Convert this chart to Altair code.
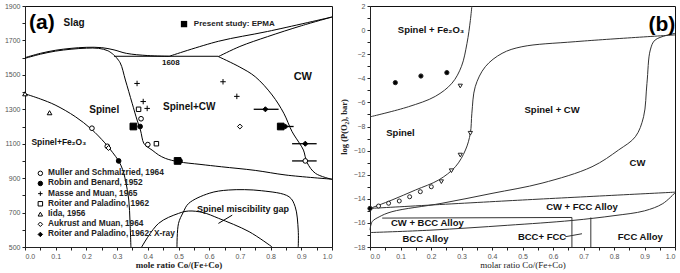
import altair as alt
import pandas as pd

# ================= Panel (a): temperature vs mole ratio =================
a_liq_x = [0, 0.05, 0.1, 0.15, 0.2, 0.25, 0.29, 0.33, 0.4, 0.47]
a_liq_y = [1600, 1625, 1643, 1654, 1660, 1658, 1645, 1625, 1612, 1608]
a_sol_x = [0, 0.05, 0.1, 0.15, 0.2, 0.24, 0.27, 0.29]
a_sol_y = [1596, 1620, 1638, 1649, 1655, 1654, 1640, 1615]
a_1608_x = [0.29, 0.63]
a_1608_y = [1608, 1608]
a_slagA_x = [0.47, 0.63, 0.79, 1.0]
a_slagA_y = [1608, 1695, 1752, 1836]
a_slagB_x = [0.63, 0.7, 0.79, 0.9, 1.0]
a_slagB_y = [1606, 1665, 1722, 1785, 1836]
a_cw_x = [0.63, 0.70, 0.75, 0.805, 0.843, 0.87, 0.895, 0.907, 0.919, 0.946, 1.0]
a_cw_y = [1606, 1545, 1489, 1383, 1277, 1170, 1100, 1063, 990, 928, 893]
a_spcw_x = [0.29, 0.31, 0.327, 0.349, 0.365, 0.376, 0.387, 0.40, 0.414, 0.435,
            0.457, 0.50, 0.57, 0.64, 0.75, 0.85, 1.0]
a_spcw_y = [1615, 1570, 1470, 1335, 1238, 1180, 1102, 1080, 1063, 1035,
            1015, 995, 980, 966, 945, 918, 894]
a_spfe_x = [0, 0.05, 0.098, 0.164, 0.216, 0.26, 0.285, 0.305, 0.318, 0.327, 0.338, 0.342, 0.345]
a_spfe_y = [1390, 1360, 1325, 1257, 1185, 1105, 1050, 1000, 950, 889, 773, 650, 500]
a_dome1_x = [0.38, 0.435, 0.50, 0.533, 0.58, 0.63, 0.73, 0.805]
a_dome1_y = [500, 637, 695, 709, 700, 667, 589, 500]
a_dome2_x = [0.495, 0.50, 0.515, 0.533, 0.60, 0.663, 0.77, 0.86, 0.88, 0.89, 0.89]
a_dome2_y = [500, 637, 700, 753, 812, 831, 827, 792, 734, 598, 500]
a_arrow_x = [0.675, 0.63]
a_arrow_y = [685, 637]

# experimental points (x, T)
muller_x = [0.218, 0.268, 0.378, 0.40, 0.913]
muller_y = [1190, 1085, 1245, 1095, 1000]
robin_x = [0.305, 0.375, 0.505]
robin_y = [1000, 1200, 1000]
masse_x = [0.365, 0.385, 0.398, 0.645, 0.69]
masse_y = [1450, 1345, 1305, 1460, 1375]
roiter_x = [0.37, 0.428]
roiter_y = [1300, 1100]
iida_x = [0.0, 0.08]
iida_y = [1390, 1280]
aukrust_x = [0.272, 0.70]
aukrust_y = [1075, 1200]
xray_x = [0.783, 0.913, 0.848]
xray_y = [1300, 1100, 1200]
epma_x = [0.353, 0.833, 0.497]
epma_y = [1200, 1200, 1000]
err_lo = [0.745, 0.87, 0.87, 0.848]
err_hi = [0.826, 0.95, 0.95, 0.875]
err_y = [1300, 1100, 1000, 1200]

PLUS = "M-1,0H1M0,-1V1"
legend_names = ["Muller and Schmalzried, 1964", "Robin and Benard, 1952",
                "Masse and Muan, 1965", "Roiter and Paladino, 1962", "Iida, 1956",
                "Aukrust and Muan, 1964", "Roiter and Paladino, 1962: X-ray"]
legend_y = [928, 869, 810, 751, 691, 632, 573]
legend_shape = ["circle", "circle", PLUS, "square", "triangle-up", "diamond", "diamond"]
legend_fill = ["white", "black", "white", "white", "white", "white", "black"]

a_labels = ["Slag", "CW", "Spinel", "Spinel+CW", "Spinel+Fe₂O₃", "1608", "Spinel miscibility gap"]
a_lab_x = [0.16, 0.905, 0.258, 0.535, 0.11, 0.475, 0.71]
a_lab_y = [1800, 1487, 1296, 1313, 1112, 1568, 718]
a_lab_size = [10, 11, 10, 10, 8.5, 8, 9]

# axis ticks (major labelled, minor unlabelled)
x_ticks = [round(0.05 * k, 2) for k in range(21)]
a_y_ticks = list(range(500, 1901, 100))
b_y_ticks = list(range(-18, 3, 1))

# ================= Panel (b): log pO2 vs molar ratio =================
b_fe_x = [0, 0.126, 0.214, 0.269, 0.30, 0.318, 0.329, 0.334]
b_fe_y = [-7.2, -6.36, -5.5, -4.4, -3.0, -1.1, 0.8, 2.0]
b_sp_x = [1.0, 0.673, 0.498, 0.433, 0.378, 0.345, 0.334, 0.329, 0.313, 0.28,
          0.225, 0.149, 0.072, 0.0]
b_sp_y = [-0.4, -0.96, -1.38, -1.93, -3.04, -4.7, -6.9, -8.56, -9.95, -11.34,
          -12.44, -13.27, -14.1, -14.8]
b_cw_x = [1.0, 0.935, 0.919, 0.908, 0.897, 0.87, 0.815, 0.728, 0.564, 0.40,
          0.236, 0.072, 0.03, 0.007, 0.0]
b_cw_y = [-0.27, -0.82, -1.65, -4.42, -7.19, -8.85, -9.95, -11.34, -12.7, -13.55,
          -14.37, -15.07, -15.5, -15.9, -16.6]
b_c_x = [0.0, 0.5, 1.0]
b_c_y = [-14.8, -14.1, -13.45]
b_h2_x = [0.04, 0.662]
b_h2_y = [-15.6, -15.55]
b_r_x = [0.0, 0.2, 0.45, 0.662, 0.8, 0.9, 0.96, 1.0]
b_r_y = [-16.8, -16.6, -16.2, -15.8, -15.4, -15.0, -14.4, -13.5]
b_v1_x = [0.662, 0.662]
b_v1_y = [-15.55, -18]
b_v2_x = [0.724, 0.724]
b_v2_y = [-15.55, -18]
b_ptr_x = [0.64, 0.695]
b_ptr_y = [-17.15, -16.9]

b_fill_x = [0.083, 0.167, 0.252, 0.0]
b_fill_y = [-4.36, -3.81, -3.53, -14.8]
b_tri_x = [0.296, 0.329, 0.296, 0.267, 0.234]
b_tri_y = [-4.64, -8.56, -10.37, -11.67, -12.58]
b_circ_x = [0.201, 0.165, 0.13, 0.096, 0.061, 0.028]
b_circ_y = [-13.0, -13.41, -13.83, -14.18, -14.37, -14.6]

b_labels = ["Spinel + Fe₂O₃", "Spinel + CW", "Spinel", "CW", "CW + FCC Alloy",
            "CW + BCC Alloy", "BCC Alloy", "BCC+ FCC", "FCC Alloy"]
b_lab_x = [0.2, 0.597, 0.1, 0.877, 0.695, 0.188, 0.182, 0.564, 0.886]
b_lab_y = [0.0, -6.63, -8.57, -11.05, -14.65, -15.98, -17.36, -17.15, -17.15]


def curves_df(curves):
    rows = []
    for name, (xs, ys) in curves.items():
        for i, (x, y) in enumerate(zip(xs, ys)):
            rows.append({"curve": name, "i": i, "x": x, "y": y})
    return pd.DataFrame(rows)


def pts_df(groups):
    rows = []
    for (xs, ys, shape, fill, size) in groups:
        for x, y in zip(xs, ys):
            rows.append({"x": x, "y": y, "shape": shape, "fill": fill, "size": size})
    return pd.DataFrame(rows)


LBL = "Liberation Sans"
XLAB = "round(datum.value*100) % 10 == 0 ? format(datum.value, '.1f') : ''"

# ---------------- build panel (a) ----------------
ax = alt.X("x:Q", scale=alt.Scale(domain=[0, 1], nice=False, zero=False),
           axis=alt.Axis(values=x_ticks, tickCount=100, labelExpr=XLAB, labelOverlap=False,
                         title="mole ratio Co/(Fe+Co)", titlePadding=1))
ay = alt.Y("y:Q", scale=alt.Scale(domain=[500, 1900], nice=False, zero=False),
           axis=alt.Axis(values=a_y_ticks, tickCount=100, labelOverlap=False,
                         labelExpr="datum.value % 200 == 100 ? format(datum.value, 'd') : ''",
                         title=None, minExtent=20, maxExtent=20))

a_curves = curves_df({
    "liq": (a_liq_x, a_liq_y), "sol": (a_sol_x, a_sol_y), "h1608": (a_1608_x, a_1608_y),
    "slagA": (a_slagA_x, a_slagA_y), "slagB": (a_slagB_x, a_slagB_y),
    "cw": (a_cw_x, a_cw_y), "spcw": (a_spcw_x, a_spcw_y), "spfe": (a_spfe_x, a_spfe_y),
    "dome1": (a_dome1_x, a_dome1_y), "dome2": (a_dome2_x, a_dome2_y),
    "arrow": (a_arrow_x, a_arrow_y),
})
a_lines = alt.Chart(a_curves).mark_line(interpolate="catmull-rom", color="black",
                                         strokeWidth=1).encode(
    x=ax, y=ay, detail="curve:N", order="i:Q")

a_err = alt.Chart(pd.DataFrame({"lo": err_lo, "hi": err_hi, "y": err_y})).mark_rule(
    color="black", strokeWidth=1.3).encode(x=alt.X("lo:Q"), x2="hi:Q", y=alt.Y("y:Q"))

a_pts_df = pts_df([
    (muller_x, muller_y, "circle", "white", 22),
    (robin_x, robin_y, "circle", "black", 22),
    (masse_x, masse_y, PLUS, "white", 30),
    (roiter_x, roiter_y, "square", "white", 20),
    (iida_x, iida_y, "triangle-up", "white", 22),
    (aukrust_x, aukrust_y, "diamond", "white", 24),
    (xray_x, xray_y, "diamond", "black", 26),
    (epma_x, epma_y, "square", "black", 45),
])
a_pts = alt.Chart(a_pts_df).mark_point(stroke="black", strokeWidth=1, opacity=1).encode(
    x="x:Q", y="y:Q", shape=alt.Shape("shape:N", scale=None),
    fill=alt.Fill("fill:N", scale=None), size=alt.Size("size:Q", scale=None))

leg_df = pd.DataFrame({"x": [0.05] * 7, "tx": [0.075] * 7, "y": legend_y,
                       "name": legend_names, "shape": legend_shape, "fill": legend_fill})
leg_pts = alt.Chart(leg_df).mark_point(stroke="black", strokeWidth=1, size=20, opacity=1).encode(
    x="x:Q", y="y:Q", shape=alt.Shape("shape:N", scale=None), fill=alt.Fill("fill:N", scale=None))
leg_txt = alt.Chart(leg_df).mark_text(align="left", baseline="middle", font=LBL,
                                      fontWeight="bold", fontSize=8.3, color="#222").encode(
    x="tx:Q", y="y:Q", text="name:N")

epma_df = pd.DataFrame({"x": [0.518], "tx": [0.55], "y": [1795], "t": ["Present study: EPMA"]})
epma_pt = alt.Chart(epma_df).mark_point(shape="square", filled=True, color="black", size=40,
                                        opacity=1).encode(x="x:Q", y="y:Q")
epma_txt = alt.Chart(epma_df).mark_text(align="left", baseline="middle", font=LBL,
                                        fontWeight="bold", fontSize=8, color="#222").encode(
    x="tx:Q", y="y:Q", text="t:N")

a_lab = alt.Chart(pd.DataFrame({"x": a_lab_x, "y": a_lab_y, "t": a_labels, "s": a_lab_size})).mark_text(
    align="center", baseline="middle", font=LBL, fontWeight="bold", color="#111").encode(
    x="x:Q", y="y:Q", text="t:N", size=alt.Size("s:Q", scale=None))

a_tag = alt.Chart(pd.DataFrame({"x": [0.055], "y": [1800], "t": ["(a)"]})).mark_text(
    align="center", baseline="middle", font=LBL, fontWeight="bold", fontSize=21, color="black").encode(
    x="x:Q", y="y:Q", text="t:N")

panel_a = alt.layer(a_lines, a_err, a_pts, leg_pts, leg_txt, epma_pt, epma_txt, a_lab, a_tag).properties(
    width=307, height=241)

# ---------------- build panel (b) ----------------
bx = alt.X("x:Q", scale=alt.Scale(domain=[0, 1], nice=False, zero=False),
           axis=alt.Axis(values=x_ticks, tickCount=100, labelExpr=XLAB, labelOverlap=False,
                         title="molar ratio Co/(Fe+Co)", titlePadding=1, titleFontWeight="normal"))
by = alt.Y("y:Q", scale=alt.Scale(domain=[-18, 2], nice=False, zero=False),
           axis=alt.Axis(values=b_y_ticks, tickCount=100, labelOverlap=False,
                         labelExpr="datum.value % 2 == 0 ? format(datum.value, 'd') : ''",
                         title="log (P(O₂), bar)", titlePadding=4, titleFontSize=8.5,
                         minExtent=18, maxExtent=18))

b_curves = curves_df({
    "fe": (b_fe_x, b_fe_y), "sp": (b_sp_x, b_sp_y), "cw": (b_cw_x, b_cw_y),
    "c": (b_c_x, b_c_y), "h2": (b_h2_x, b_h2_y), "r": (b_r_x, b_r_y),
    "v1": (b_v1_x, b_v1_y), "v2": (b_v2_x, b_v2_y),
    "ptr": (b_ptr_x, b_ptr_y),
})
b_lines = alt.Chart(b_curves).mark_line(interpolate="catmull-rom", color="#333",
                                         strokeWidth=1).encode(
    x=bx, y=by, detail="curve:N", order="i:Q")

b_pts_df = pts_df([
    (b_fill_x, b_fill_y, "circle", "black", 18),
    (b_tri_x, b_tri_y, "triangle-down", "white", 18),
    (b_circ_x, b_circ_y, "circle", "white", 16),
])
b_pts = alt.Chart(b_pts_df).mark_point(stroke="#222", strokeWidth=1, opacity=1).encode(
    x="x:Q", y="y:Q", shape=alt.Shape("shape:N", scale=None),
    fill=alt.Fill("fill:N", scale=None), size=alt.Size("size:Q", scale=None))

b_lab = alt.Chart(pd.DataFrame({"x": b_lab_x, "y": b_lab_y, "t": b_labels})).mark_text(
    align="center", baseline="middle", font=LBL, fontWeight="bold", fontSize=9.5, color="#111").encode(
    x="x:Q", y="y:Q", text="t:N")

b_tag = alt.Chart(pd.DataFrame({"x": [0.957], "y": [0.42], "t": ["(b)"]})).mark_text(
    align="center", baseline="middle", font=LBL, fontWeight="bold", fontSize=21, color="black").encode(
    x="x:Q", y="y:Q", text="t:N")

panel_b = alt.layer(b_lines, b_pts, b_lab, b_tag).properties(width=305, height=241)

chart = alt.hconcat(panel_a, panel_b, spacing=38, bounds="flush").properties(
    padding={"left": 3, "top": 1, "right": 0, "bottom": 0},
    background="white",
).configure_view(stroke="#111", strokeWidth=1).configure_axis(
    labelFont=LBL, labelFontSize=7, labelColor="#555", tickColor="#222", domainColor="#222",
    tickSize=3, labelPadding=2, grid=False, labelOverlap=False, titleFont="Liberation Serif",
    titleFontWeight="bold", titleFontSize=9, titleColor="#222")

chart.save("out.html", embed_options={"renderer": "svg", "actions": False})
